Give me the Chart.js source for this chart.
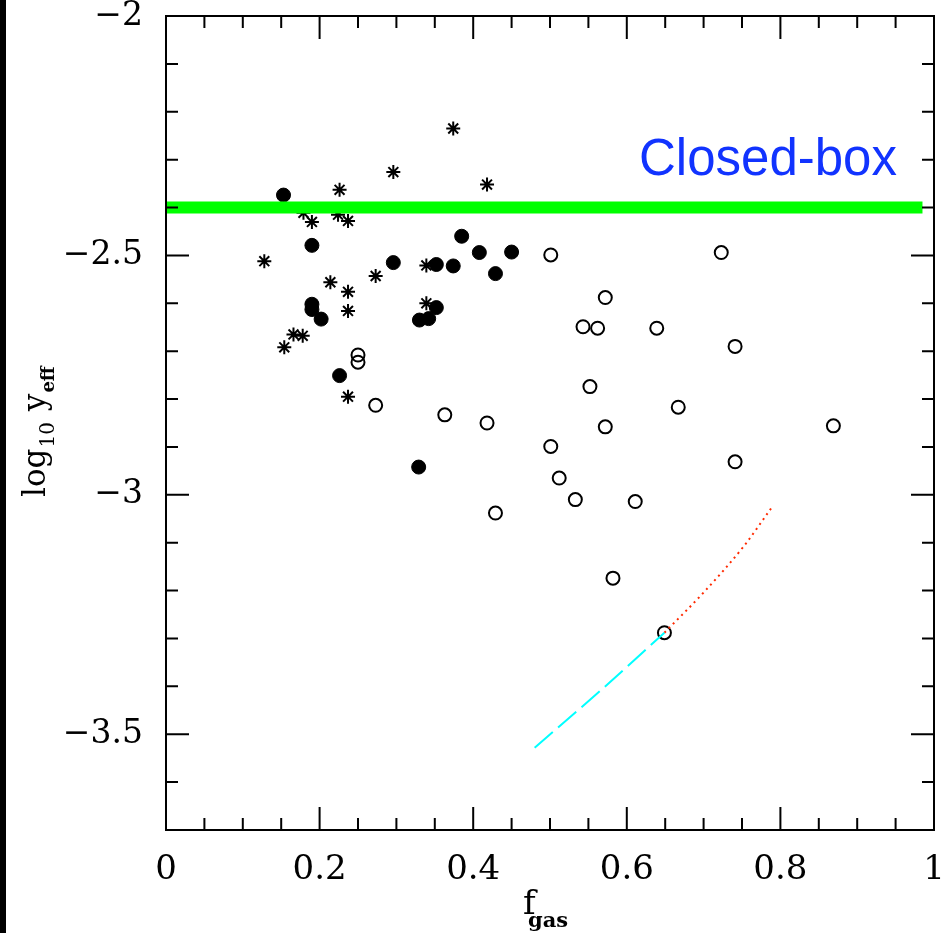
<!DOCTYPE html>
<html>
<head>
<meta charset="utf-8">
<script src="https://cdn.jsdelivr.net/npm/chart.js@4"></script>
<style>
  html, body { margin: 0; padding: 0; background: #fff; }
  #wrap { position: relative; width: 951px; height: 933px; }
  #edge { position: absolute; left: 0; top: 0; width: 6px; height: 933px; background: #000; }
</style>
</head>
<body>
<div id="wrap">
  <canvas id="chart" width="951" height="933"></canvas>
  <div id="edge"></div>
</div>
<script>
// values
const filledX = [0.153, 0.190, 0.296, 0.385, 0.408, 0.450, 0.352, 0.374, 0.429, 0.190, 0.190, 0.202, 0.330, 0.342, 0.352, 0.226, 0.329];
const filledY = [-2.374, -2.479, -2.515, -2.460, -2.494, -2.493, -2.519, -2.522, -2.538, -2.602, -2.613, -2.633, -2.635, -2.632, -2.609, -2.751, -2.942];

const starX = [0.374, 0.296, 0.418, 0.226, 0.179, 0.190, 0.224, 0.237, 0.128, 0.214, 0.237, 0.273, 0.339, 0.339, 0.237, 0.166, 0.178, 0.154, 0.237];
const starY = [-2.235, -2.326, -2.352, -2.363, -2.411, -2.430, -2.415, -2.428, -2.512, -2.556, -2.576, -2.543, -2.521, -2.600, -2.616, -2.665, -2.668, -2.692, -2.795];

const openX = [0.250, 0.250, 0.273, 0.363, 0.418, 0.501, 0.723, 0.572, 0.543, 0.562, 0.639, 0.741, 0.552, 0.667, 0.572, 0.869, 0.501, 0.741, 0.512, 0.533, 0.611, 0.429, 0.582, 0.649];
const openY = [-2.708, -2.723, -2.813, -2.833, -2.850, -2.499, -2.494, -2.588, -2.649, -2.652, -2.652, -2.690, -2.774, -2.817, -2.858, -2.856, -2.899, -2.931, -2.965, -3.010, -3.014, -3.038, -3.174, -3.288];

const cyanX = [0.480, 0.565, 0.649];
const cyanY = [-3.528, -3.410, -3.288];
const redX = [0.649, 0.700, 0.752, 0.788];
const redY = [-3.288, -3.204, -3.108, -3.028];

const closedBoxX = [0, 0.985];
const closedBoxY = [-2.4, -2.4];

const xTicks = [0, 0.2, 0.4, 0.6, 0.8, 1];
const yTicks = [-3.5, -3, -2.5, -2];

const zip = (xs, ys) => xs.map((x, i) => ({ x, y: ys[i] }));
const serif = "'DejaVu Serif', 'Liberation Serif', serif";

// box with inward ticks on all four sides, plus the titles
const framePlugin = {
  id: "frame",
  afterDatasetsDraw(chart) {
    const { ctx, chartArea: a, scales } = chart;
    const sx = scales.x, sy = scales.y;
    ctx.save();
    ctx.strokeStyle = "#000";
    ctx.lineWidth = 2;
    ctx.strokeRect(a.left, a.top, a.right - a.left, a.bottom - a.top);
    ctx.beginPath();
    for (let i = 1; i < 20; i++) {
      const px = sx.getPixelForValue(i / 20);
      const len = i % 4 === 0 ? 23 : 12;
      ctx.moveTo(px, a.bottom); ctx.lineTo(px, a.bottom - len);
      ctx.moveTo(px, a.top); ctx.lineTo(px, a.top + len);
    }
    for (let i = 1; i < 17; i++) {
      const py = sy.getPixelForValue(-2 - i / 10);
      const len = i % 5 === 0 ? 23 : 12;
      ctx.moveTo(a.left, py); ctx.lineTo(a.left + len, py);
      ctx.moveTo(a.right, py); ctx.lineTo(a.right - len, py);
    }
    ctx.stroke();
    ctx.restore();
  },
  afterDraw(chart) {
    const { ctx } = chart;
    ctx.save();
    ctx.fillStyle = "#000";
    ctx.textBaseline = "alphabetic";
    // y title: log10 y_eff
    ctx.translate(45, 497);
    ctx.rotate(-Math.PI / 2);
    ctx.font = "31px " + serif;
    ctx.fillText("log", 0, 0);
    let w = ctx.measureText("log").width;
    ctx.font = "20px " + serif;
    ctx.fillText("10", w + 1, 9);
    w += ctx.measureText("10").width + 12;
    ctx.font = "31px " + serif;
    ctx.fillText("y", w, 0);
    w += ctx.measureText("y").width + 1;
    ctx.font = "bold 18px " + serif;
    ctx.fillText("eff", w, 9);
    ctx.restore();

    ctx.save();
    ctx.fillStyle = "#000";
    ctx.font = "34px " + serif;
    ctx.fillText("f", 523, 914);
    ctx.font = "bold 21px " + serif;
    ctx.fillText("gas", 528, 927);
    ctx.fillStyle = "#1133ff";
    ctx.font = "51px 'Liberation Sans', Arial, sans-serif";
    ctx.fillText("Closed-box", 639, 175);
    ctx.restore();
  }
};

new Chart(document.getElementById("chart"), {
  type: "scatter",
  data: {
    datasets: [
      {
        label: "closed box",
        data: zip(closedBoxX, closedBoxY),
        showLine: true,
        borderColor: "#00ff00",
        borderWidth: 12,
        borderCapStyle: "butt",
        pointRadius: 0,
      },
      {
        label: "model cyan",
        data: zip(cyanX, cyanY),
        showLine: true,
        borderColor: "#00ffff",
        borderWidth: 2,
        borderDash: [24, 7],
        cubicInterpolationMode: "monotone",
        pointRadius: 0,
      },
      {
        label: "model red",
        data: zip(redX, redY),
        showLine: true,
        borderColor: "#ff2a00",
        borderWidth: 2,
        borderDash: [2, 4],
        cubicInterpolationMode: "monotone",
        pointRadius: 0,
      },
      {
        label: "filled",
        data: zip(filledX, filledY),
        pointStyle: "circle",
        pointRadius: 7,
        backgroundColor: "#000",
        borderColor: "#000",
        borderWidth: 1,
      },
      {
        label: "stars",
        data: zip(starX, starY),
        pointStyle: "star",
        pointRadius: 7,
        borderColor: "#000",
        borderWidth: 2,
      },
      {
        label: "open",
        data: zip(openX, openY),
        pointStyle: "circle",
        pointRadius: 6.5,
        backgroundColor: "rgba(0,0,0,0)",
        borderColor: "#000",
        borderWidth: 2,
      },
    ],
  },
  options: {
    responsive: false,
    animation: false,
    layout: { padding: { top: 16, right: 17, left: 0, bottom: 0 } },
    plugins: { legend: { display: false }, tooltip: { enabled: false } },
    scales: {
      x: {
        type: "linear",
        min: 0,
        max: 1,
        grid: { display: false },
        border: { display: false },
        afterBuildTicks: (s) => { s.ticks = xTicks.map((value) => ({ value })); },
        afterFit: (s) => {
          s.height = 103;
          s.paddingLeft = 0;
          s.paddingRight = 0;
        },
        ticks: {
          color: "#000",
          padding: 12,
          maxRotation: 0,
          font: { family: serif, size: 34 },
          callback: (v) => (v === 0 || v === 1 ? String(v) : v.toFixed(1)),
        },
      },
      y: {
        type: "linear",
        min: -3.7,
        max: -2,
        grid: { display: false },
        border: { display: false },
        afterBuildTicks: (s) => { s.ticks = yTicks.map((value) => ({ value })); },
        afterFit: (s) => {
          s.width = 166;
          s.paddingTop = 0;
          s.paddingBottom = 0;
        },
        ticks: {
          color: "#000",
          padding: 15,
          font: { family: serif, size: 33 },
          callback: (v) => (v < 0 ? "\u2212" : "") + String(Math.abs(v)),
        },
      },
    },
  },
  plugins: [framePlugin],
});
</script>
</body>
</html>
